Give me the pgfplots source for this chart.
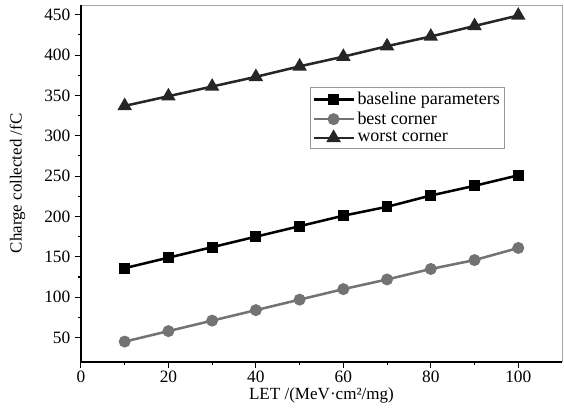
\documentclass[border=0pt]{standalone}
\usepackage{fontspec}
\setmainfont{Liberation Serif}
\usepackage{pgfplots}
\pgfplotsset{compat=1.18}

\begin{document}
\begin{tikzpicture}
\begin{axis}[
    scale only axis,
    width=361pt, height=267.75pt,
    xmin=0, xmax=110,
    ymin=20, ymax=462,
    xtick={0,20,40,60,80,100},
    ytick={50,100,...,450},
    minor x tick num=1,
    minor y tick num=1,
    tick align=outside,
    xtick pos=bottom, ytick pos=left,
    major tick length=4.5pt, minor tick length=2.5pt,
    tick style={black, line width=0.8pt},
    axis line style={gray!70, line width=0.6pt},
    /pgf/number format/assume math mode=true,
    ticklabel style={font=\fontsize{13}{15}\selectfont},
    xticklabel style={yshift=1pt},
    xlabel={LET /(MeV·cm²/mg)},
    ylabel={Charge collected /fC},
    xlabel style={font=\fontsize{12.8}{15}\selectfont, at={(axis description cs:0.5,-0.095)}, anchor=center},
    ylabel style={font=\fontsize{12.7}{15}\selectfont, at={(axis description cs:-0.132,0.5)}, anchor=center},
    legend style={at={(rel axis cs:0.476,0.770)}, anchor=north west,
        draw=gray!80, line width=0.6pt, font=\fontsize{13.5}{15.4}\selectfont,
        row sep=0pt, inner sep=1.5pt},
    legend cell align=left,
    legend image code/.code={
        \draw[mark repeat=2, mark phase=2] plot coordinates {(0pt,0pt) (15pt,0pt) (30pt,0pt)};
    },
    after end axis/.code={
        \draw[black, line width=1.1pt] (rel axis cs:0,0) -- (rel axis cs:1,0);
        \draw[black, line width=1.1pt] (rel axis cs:0,0) -- (rel axis cs:0,1);
    },
]
\addplot[black, line width=1.9pt, mark=square*, mark size=3.1pt, mark options={solid}]
coordinates {(10,136)(20,149)(30,162)(40,175)(50,188)(60,201)(70,212)(80,226)(90,238)(100,251)};
\addlegendentry{baseline parameters}
\addplot[black!55, line width=1.9pt, mark=*, mark size=3.5pt]
coordinates {(10,45)(20,58)(30,71)(40,84)(50,97)(60,110)(70,122)(80,135)(90,146)(100,161)};
\addlegendentry{best corner}
\addplot[black!85, line width=1.9pt, mark=triangle*, mark size=4.4pt]
coordinates {(10,337)(20,349)(30,361)(40,373)(50,386)(60,398)(70,411)(80,423)(90,436)(100,449)};
\addlegendentry{worst corner}
\end{axis}
\pgfresetboundingbox
\path[use as bounding box] ([xshift=-60.75pt,yshift=-37.5pt]current axis.south west) rectangle ([xshift=1.5pt,yshift=3.75pt]current axis.north east);
\end{tikzpicture}
\end{document}
